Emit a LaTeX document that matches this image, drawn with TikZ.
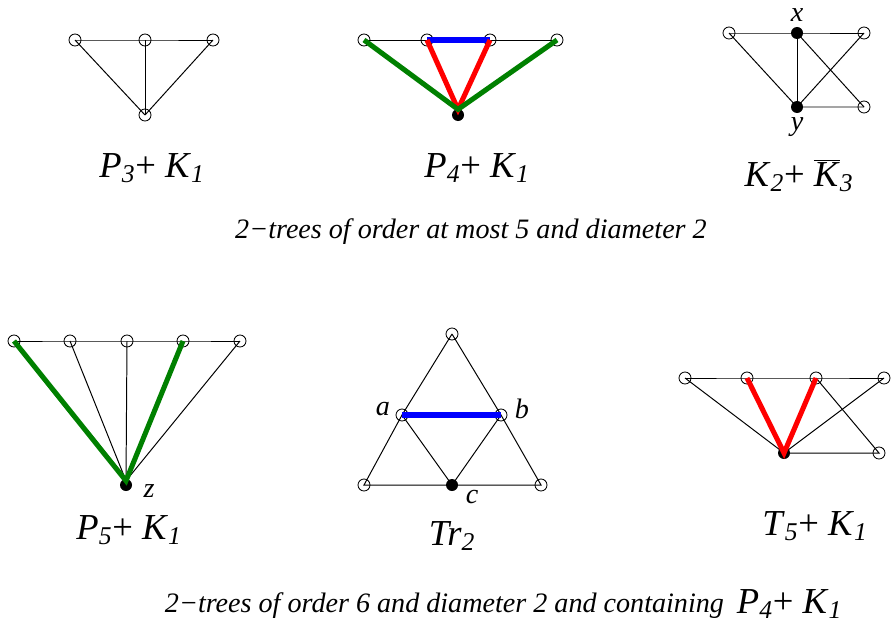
\documentclass[tikz,border=0pt]{standalone}
\usepackage{fontspec}
\setmainfont{Liberation Serif}
\usetikzlibrary{positioning}
\definecolor{treegreen}{RGB}{0,128,0}
\definecolor{treered}{RGB}{255,0,0}
\definecolor{treeblue}{RGB}{0,0,255}
\newcommand{\gname}[2]{\textit{#1}\textsubscript{\textit{#2}}}

\begin{document}
\begin{tikzpicture}[
  x=0.025cm, y=-0.025cm,
  vtx/.style={draw, circle, minimum size=0.3cm, inner sep=0pt, line width=0.6pt},
  dot/.style={fill, circle, minimum size=0.3cm, inner sep=0pt},
  edge/.style={line width=0.7pt},
  fat/.style={line width=3.6pt},
  gtitle/.style={font=\fontsize{26}{28}\selectfont},
  vname/.style={font=\fontsize{20}{22}\selectfont\itshape, inner sep=1pt},
  caption/.style={font=\fontsize{20}{22}\selectfont\itshape},
]
  \useasboundingbox (0,0) rectangle (891,624);

  % P3 + K1
  \node[vtx] (pa1) at (75,40) {};
  \node[vtx] (pa2) at (145,40) {};
  \node[vtx] (pa3) at (213,40) {};
  \node[vtx] (pa0) at (145,115) {};
  \draw[edge] (pa1.center) -- (pa2.center) -- (pa3.center);
  \foreach \v in {pa1,pa2,pa3} \draw[edge] (\v.center) -- (pa0.center);
  \node[gtitle] (ta) at (152,168) {\gname{P}{3}+ \gname{K}{1}};

  % P4 + K1
  \node[vtx] (pb1) at (364,40) {};
  \node[vtx] (pb2) at (427,40) {};
  \node[vtx] (pb3) at (490,40) {};
  \node[vtx] (pb4) at (557,40) {};
  \node[dot] (pb0) at (458,115) {};
  \draw[edge] (pb1.center) -- (pb2.center);
  \draw[edge] (pb3.center) -- (pb4.center);
  \draw[fat, treeblue] (pb2.center) -- (pb3.center);
  \draw[fat, treered] (pb2.center) -- ([yshift=4pt]pb0.center) -- (pb3.center);
  \draw[fat, treegreen] (pb1.center) -- ([yshift=4pt]pb0.center) -- (pb4.center);
  \node[gtitle] (tb) at (477,168) {\gname{P}{4}+ \gname{K}{1}};

  % K2 + complement of K3
  \node[vtx] (kl) at (729,33) {};
  \node[dot] (kx) at (797,33) {};
  \node[vtx] (kr1) at (864,33) {};
  \node[dot] (ky) at (797,107) {};
  \node[vtx] (kr2) at (864,107) {};
  \draw[edge] (kl.center) -- (kx.center) -- (kr1.center);
  \draw[edge] (kl.center) -- (ky.center) -- (kr2.center);
  \draw[edge] (kx.center) -- (ky.center);
  \draw[edge] (kx.center) -- (kr2.center);
  \draw[edge] (ky.center) -- (kr1.center);
  \node[vname] (lx) at (797,15) {x};
  \node[vname] (ly) at (797,127) {y};
  \node[gtitle] (tc) at (799,176) {\gname{K}{2}+ $\overline{\mbox{\textit{K}}}$\textsubscript{\textit{3}}};

  \node[caption] (cap1) at (471,232) {2−trees of order at most 5 and diameter 2};

  % P5 + K1
  \node[vtx] (pd1) at (14,341) {};
  \node[vtx] (pd2) at (70,341) {};
  \node[vtx] (pd3) at (127,341) {};
  \node[vtx] (pd4) at (183,341) {};
  \node[vtx] (pd5) at (240,341) {};
  \node[dot] (pdz) at (126,485) {};
  \draw[edge] (pd1.center) -- (pd2.center) -- (pd3.center) -- (pd4.center) -- (pd5.center);
  \foreach \v in {pd2,pd3,pd5} \draw[edge] (\v.center) -- ([yshift=3pt]pdz.center);
  \draw[fat, treegreen] (pd1.center) -- ([yshift=3pt]pdz.center) -- (pd4.center);
  \node[vname] (lz) at (149,491) {z};
  \node[gtitle] (td) at (129,530) {\gname{P}{5}+ \gname{K}{1}};

  % Tr2
  \node[vtx] (tt) at (452,334) {};
  \node[vtx] (ta) at (402,415) {};
  \node[vtx] (tb) at (501,415) {};
  \node[vtx] (tl) at (364,485) {};
  \node[dot] (tcv) at (452,485) {};
  \node[vtx] (tr) at (541,485) {};
  \draw[edge] (tt.center) -- (ta.center) -- (tl.center) -- (tcv.center) -- (tr.center) -- (tb.center) -- (tt.center);
  \draw[edge] (ta.center) -- (tcv.center) -- (tb.center);
  \draw[fat, treeblue] (ta.center) -- (tb.center);
  \node[vname] (la) at (383,409) {a};
  \node[vname] (lb) at (522,409) {b};
  \node[vname] (lc) at (472,497) {c};
  \node[gtitle] (te) at (452,536) {\textit{Tr}\textsubscript{\textit{2}}};

  % T5 + K1
  \node[vtx] (tf1) at (685,378) {};
  \node[vtx] (tf2) at (747,378) {};
  \node[vtx] (tf3) at (816,378) {};
  \node[vtx] (tf4) at (884,378) {};
  \node[dot] (tf0) at (784,453) {};
  \node[vtx] (tf5) at (879,453) {};
  \draw[edge] (tf1.center) -- (tf2.center) -- (tf3.center) -- (tf4.center);
  \draw[edge] (tf1.center) -- (tf0.center) -- (tf4.center);
  \draw[edge] (tf3.center) -- (tf5.center) -- (tf0.center);
  \draw[fat, treered] (tf2.center) -- (tf0.center) -- (tf3.center);
  \node[gtitle] (tg) at (815,526) {\gname{T}{5}+ \gname{K}{1}};

  \node[caption, anchor=west] (cap2) at (160,606) {2−trees of order 6 and diameter 2 and containing};
  \node[gtitle, anchor=west] (cap2g) at (732,604) {\gname{P}{4}+ \gname{K}{1}};
\end{tikzpicture}
\end{document}
